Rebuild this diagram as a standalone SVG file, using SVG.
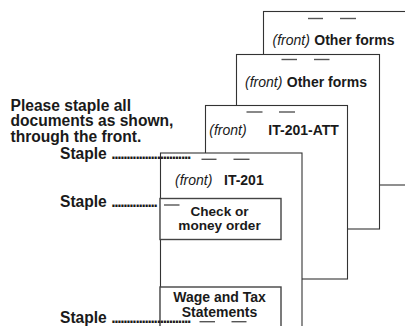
<svg xmlns="http://www.w3.org/2000/svg" width="405" height="326" viewBox="0 0 405 326">
<style>
.sheet{fill:#fff;stroke:#333;stroke-width:1.1}
.box{fill:#fff;stroke:#444;stroke-width:1.4}
.dash{stroke:#555;stroke-width:1.4}
.t{font-family:"Liberation Sans",Arial,sans-serif;fill:#1a1a1a}
.it{font-style:italic;font-weight:normal;font-size:14px}
.b14{font-weight:bold;font-size:14px}
.b13{font-weight:bold;font-size:13.6px}
.b15{font-weight:bold;font-size:15.6px}
.dots{letter-spacing:-1.3px}
</style>
<rect width="405" height="326" fill="#fff"/>
<g id="sheet-other-forms-back">
<rect class="sheet" x="263.5" y="11.5" width="160" height="173.5"/>
<line class="dash" x1="308" y1="18.5" x2="323" y2="18.5"/>
<line class="dash" x1="340" y1="18.5" x2="356" y2="18.5"/>
<text class="t" x="272.5" y="44.7"><tspan class="it">(front)</tspan> <tspan class="b14">Other forms</tspan></text>
</g>
<g id="sheet-other-forms">
<rect class="sheet" x="236.5" y="54.5" width="143" height="174.5"/>
<line class="dash" x1="281.5" y1="59.5" x2="297" y2="59.5"/>
<line class="dash" x1="314" y1="59.5" x2="329.5" y2="59.5"/>
<text class="t" x="245" y="86.7"><tspan class="it">(front)</tspan> <tspan class="b14">Other forms</tspan></text>
</g>
<g id="sheet-it201att">
<rect class="sheet" x="205.5" y="105.5" width="142" height="173.5"/>
<line class="dash" x1="246.5" y1="112" x2="262.5" y2="112"/>
<line class="dash" x1="279" y1="112" x2="295" y2="112"/>
<text class="t it" x="209.3" y="135">(front)</text>
<text class="t b14" x="268.3" y="135">IT-201-ATT</text>
</g>
<g id="sheet-it201">
<rect class="sheet" x="160.5" y="153" width="141.5" height="200"/>
<line class="dash" x1="201.5" y1="159.3" x2="216.5" y2="159.3"/>
<line class="dash" x1="233.5" y1="159.3" x2="249.5" y2="159.3"/>
<text class="t it" x="175" y="185">(front)</text>
<text class="t b14" x="224" y="185">IT-201</text>
</g>
<g id="box-check">
<rect class="box" x="160" y="198.5" width="121" height="41"/>
<line class="dash" x1="164" y1="205" x2="179.5" y2="205"/>
<text class="t b13" x="219.5" y="215.8" text-anchor="middle">Check or</text>
<text class="t b13" x="219.5" y="230.2" text-anchor="middle">money order</text>
</g>
<g id="box-wage">
<rect class="box" x="160" y="287" width="121" height="60"/>
<text class="t b14" x="219.5" y="301.7" text-anchor="middle">Wage and Tax</text>
<text class="t b14" x="219.5" y="317.3" text-anchor="middle">Statements</text>
<line class="dash" x1="199.5" y1="321.7" x2="215" y2="321.7"/>
<line class="dash" x1="231.5" y1="321.7" x2="246.5" y2="321.7"/>
</g>
<g id="instructions">
<text class="t b15" x="10.5" y="111">Please staple all</text>
<text class="t b15" x="10.5" y="126.4">documents as shown,</text>
<text class="t b15" x="10.5" y="141.8">through the front.</text>
</g>
<g id="connectors">
<text class="t b15" x="60" y="159">Staple <tspan class="dots">..........................</tspan></text>
<text class="t b15" x="60" y="207">Staple <tspan class="dots">...............</tspan></text>
<text class="t b15" x="60" y="322.7">Staple <tspan class="dots">..........................</tspan></text>
</g>
</svg>
